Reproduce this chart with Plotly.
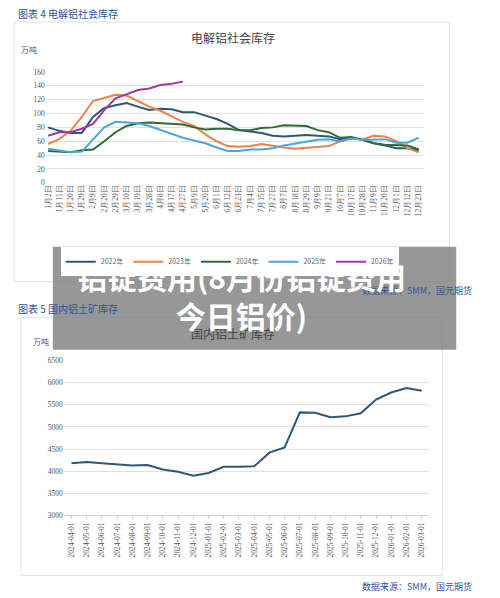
import plotly.graph_objects as go

# 电解铝社会库存（万吨）
days = ["1月2日", "1月11日", "1月20日", "1月29日", "2月9日", "2月20日", "2月29日", "3月10日",
        "3月19日", "3月28日", "4月8日", "4月17日", "4月27日", "5月9日", "5月20日", "6月1日",
        "6月12日", "6月23日", "7月4日", "7月15日", "7月27日", "8月7日", "8月18日", "8月29日",
        "9月9日", "9月21日", "10月7日", "10月17日", "10月28日", "11月9日", "11月20日", "12月1日",
        "12月12日", "12月23日"]
inv_2022 = [80, 75, 72, 72, 95, 108, 112, 115, 110, 105, 107, 106, 102, 102, 97, 92, 85,
            76, 74, 72, 68, 67, 68, 69, 68, 67, 63, 65, 62, 57, 54, 50, 50, 47]
inv_2023 = [56, 63, 75, 95, 118, 123, 127, 126, 118, 110, 104, 96, 88, 82, 70, 60, 53,
            52, 53, 56, 53, 51, 49, 50, 52, 53, 60, 64, 63, 68, 67, 60, 50, 44]
inv_2024 = [46, 45, 44, 47, 48, 60, 73, 82, 86, 87, 86, 86, 84, 80, 77, 78, 78,
            76, 76, 79, 80, 83, 82, 82, 76, 73, 65, 66, 62, 57, 55, 55, 54, 48]
inv_2025 = [49, 46, 44, 45, 63, 80, 88, 87, 86, 82, 76, 70, 65, 61, 57, 51, 46,
            46, 48, 48, 50, 54, 57, 60, 62, 63, 60, 64, 62, 62, 63, 58, 58, 65]
inv_2026 = [68, 73, 73, 78, 85, 105, 122, 128, 134, 136, 141, 143, 146]

# 国内铝土矿库存（万吨）
months = ["2024-04-01", "2024-05-01", "2024-06-01", "2024-07-01", "2024-08-01", "2024-09-01",
          "2024-10-01", "2024-11-01", "2024-12-01", "2025-01-01", "2025-02-01", "2025-03-01",
          "2025-04-01", "2025-05-01", "2025-06-01", "2025-07-01", "2025-08-01", "2025-09-01",
          "2025-10-01", "2025-11-01", "2025-12-01", "2026-01-01", "2026-02-01", "2026-03-01"]
bauxite = [4180, 4210, 4180, 4150, 4130, 4140, 4040, 3990, 3900, 3960, 4100, 4100,
           4110, 4420, 4540, 5330, 5320, 5220, 5240, 5310, 5620, 5780, 5880, 5820]

years = ["2022年", "2023年", "2024年", "2025年", "2026年"]
colors = ["#2e5878", "#e8834a", "#2f6b35", "#4ea5dc", "#a23a9e"]
serif = "Liberation Serif"
cjk = "Noto Sans CJK SC"


def py(r):
    # pixel row in the screenshot -> paper y
    return 1 - ((r - 12) / 0.986) / 598


def px(c):
    return (c - 4) / 500


fig = go.Figure()
for name, ys, c in zip(years, [inv_2022, inv_2023, inv_2024, inv_2025, inv_2026], colors):
    fig.add_trace(go.Scatter(x=days[:len(ys)], y=ys, name=name, mode="lines",
                             line=dict(color=c, width=2), xaxis="x", yaxis="y"))

fig.add_trace(go.Scatter(x=months, y=bauxite, mode="lines", showlegend=False,
                         line=dict(color="#2e5878", width=2), xaxis="x2", yaxis="y2"))

tick = dict(family=serif, size=7.5, color="#555")


def note(text, c, r, size, color, xanchor="center"):
    return dict(text=text, x=px(c), y=py(r), xref="paper", yref="paper", xanchor=xanchor,
                yanchor="middle", showarrow=False, font=dict(size=size, color=color))


fig.update_layout(
    width=500, height=598, margin=dict(l=0, r=0, t=0, b=0),
    paper_bgcolor="white", plot_bgcolor="white", font=dict(family=cjk),
    xaxis=dict(domain=[px(40), px(420)], type="category", range=[-0.2, 33.5], tickangle=-90,
               tickfont=tick, showgrid=False, showline=False, anchor="y"),
    yaxis=dict(domain=[py(183), py(72)], range=[0, 160], dtick=20, tickfont=tick,
               gridcolor="#e0e0e0", zeroline=False, anchor="x"),
    xaxis2=dict(domain=[px(58), px(425)], type="category", range=[-0.5, 23.5], tickangle=-90,
                tickfont=tick, showgrid=False, showline=True, linecolor="#d0d0d0",
                ticks="outside", ticklen=3, tickcolor="#d0d0d0", anchor="y2"),
    yaxis2=dict(domain=[py(516), py(361)], range=[3000, 6500], dtick=500, tickfont=tick,
                gridcolor="#e0e0e0", zeroline=False, anchor="x2"),
    legend=dict(orientation="h", x=px(55), y=py(262), xanchor="left", yanchor="middle",
                font=dict(family=cjk, size=7, color="#666")),
    shapes=[
        dict(type="rect", xref="paper", yref="paper", x0=px(8), x1=px(445),
             y0=py(282), y1=py(22), line=dict(color="#e2e2e2", width=1)),
        dict(type="rect", xref="paper", yref="paper", x0=px(15), x1=px(438),
             y0=py(576), y1=py(318), line=dict(color="#e2e2e2", width=1)),
        dict(type="rect", xref="paper", yref="paper", x0=px(47), x1=px(452),
             y0=py(350), y1=py(247), fillcolor="rgba(128,128,128,0.82)",
             line=dict(width=0), layer="above"),
    ],
    annotations=[
        note("图表 4 电解铝社会库存", 10, 14, 10, "#2f5597", "left"),
        note("电解铝社会库存", 228, 38, 12, "#444"),
        note("万吨", 23, 50, 8, "#555"),
        note("数据来源：SMM，国元期货", 470, 291, 9, "#2f5597", "right"),
        note("图表 5 国内铝土矿库存", 10, 309, 10, "#2f5597", "left"),
        note("国内铝土矿库存", 228, 334, 12, "#444"),
        note("万吨", 35, 342, 8, "#555"),
        note("数据来源：SMM，国元期货", 470, 587, 9, "#2f5597", "right"),
        note("<b>铝锭费用(8月份铝锭费用<br>今日铝价)</b>", 236, 296, 30, "white"),
    ],
)

fig.write_html("out.html")
